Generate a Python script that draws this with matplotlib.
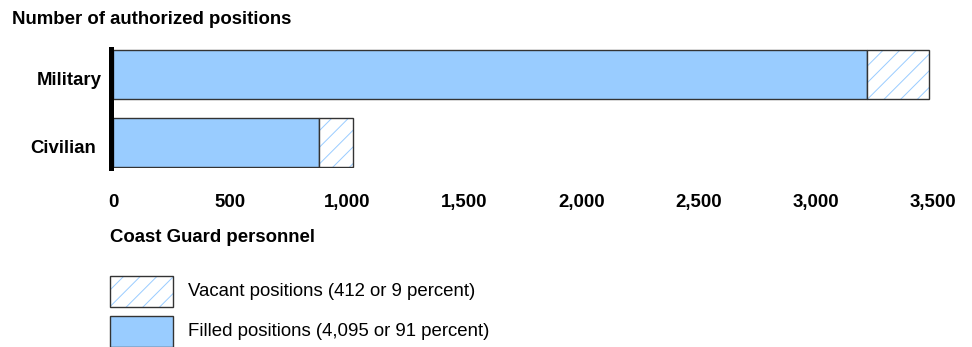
import matplotlib
matplotlib.use('Agg')
import matplotlib.pyplot as plt
import matplotlib.transforms as mtransforms
from matplotlib.patches import Rectangle

# data
categories = ['Military', 'Civilian']
filled = [3217, 878]
vacant = [264, 148]
x_ticks = [0, 500, 1000, 1500, 2000, 2500, 3000, 3500]
legend_labels = ['Vacant positions (412 or 9 percent)',
                 'Filled positions (4,095 or 91 percent)']

FILL = '#99ccff'
EDGE = '#333333'
FS = 13.4

plt.rcParams['font.family'] = ['Liberation Sans', 'DejaVu Sans']
plt.rcParams['hatch.linewidth'] = 0.7

W, H = 972, 347
fig = plt.figure(figsize=(W / 100, H / 100), dpi=100)
ax = fig.add_axes([113 / W, 1 - 168 / H, 820 / W, 119 / H])

# spine position first: moving it resets the tick labels
for s in ['top', 'right', 'bottom']:
    ax.spines[s].set_visible(False)
ax.spines['left'].set_linewidth(3.6)
ax.spines['left'].set_position(('outward', 1.8))

y = list(range(len(categories)))
ax.barh(y, filled, height=0.72, color=FILL, edgecolor=EDGE, linewidth=1.0)
# hatched part: light blue hatch lines, then a dark outline on top
ax.barh(y, vacant, left=filled, height=0.72, color='white', edgecolor=FILL,
        hatch='//', linewidth=0)
ax.barh(y, vacant, left=filled, height=0.72, fill=False, edgecolor=EDGE,
        linewidth=1.0)

ax.set_xlim(0, 3500)
ax.set_ylim(1.375, -0.375)
ax.set_yticks(y)
ax.set_yticklabels(categories, fontsize=FS, fontweight='bold')
ax.set_xticks(x_ticks)
ax.set_xticklabels([f'{v:,}' for v in x_ticks], fontsize=FS, fontweight='bold')
ax.tick_params(axis='both', length=0)
ax.tick_params(axis='x', pad=19)
ax.tick_params(axis='y', pad=7)
ax.patch.set_visible(False)

# the category labels in the original are not quite aligned
nudges = [(1, -4), (-5, -4)]
for lbl, (dx, dy) in zip(ax.get_yticklabels(), nudges):
    off = mtransforms.ScaledTranslation(dx / 100, dy / 100, fig.dpi_scale_trans)
    lbl.set_transform(lbl.get_transform() + off)

fig.text(12 / W, 1 - 19 / H, 'Number of authorized positions', fontsize=FS,
         fontweight='bold', va='center', ha='left')
fig.text(110 / W, 1 - 238 / H, 'Coast Guard personnel', fontsize=FS,
         fontweight='bold', va='center', ha='left')

# legend drawn by hand, boxes under the axis title
box_w, box_h = 63, 31
for i, lab in enumerate(legend_labels):
    top = 276 + i * 40
    y0 = 1 - (top + box_h) / H
    if i == 0:
        fig.patches.append(Rectangle((110 / W, y0), box_w / W, box_h / H,
                                     transform=fig.transFigure, facecolor='white',
                                     edgecolor=FILL, hatch='//', linewidth=0))
        fig.patches.append(Rectangle((110 / W, y0), box_w / W, box_h / H,
                                     transform=fig.transFigure, fill=False,
                                     edgecolor=EDGE, linewidth=1.0))
    else:
        fig.patches.append(Rectangle((110 / W, y0), box_w / W, box_h / H,
                                     transform=fig.transFigure, facecolor=FILL,
                                     edgecolor=EDGE, linewidth=1.0))
    fig.text(188 / W, 1 - (top + box_h / 2) / H, lab, fontsize=FS,
             va='center', ha='left')

fig.savefig('out.png', dpi=100)
